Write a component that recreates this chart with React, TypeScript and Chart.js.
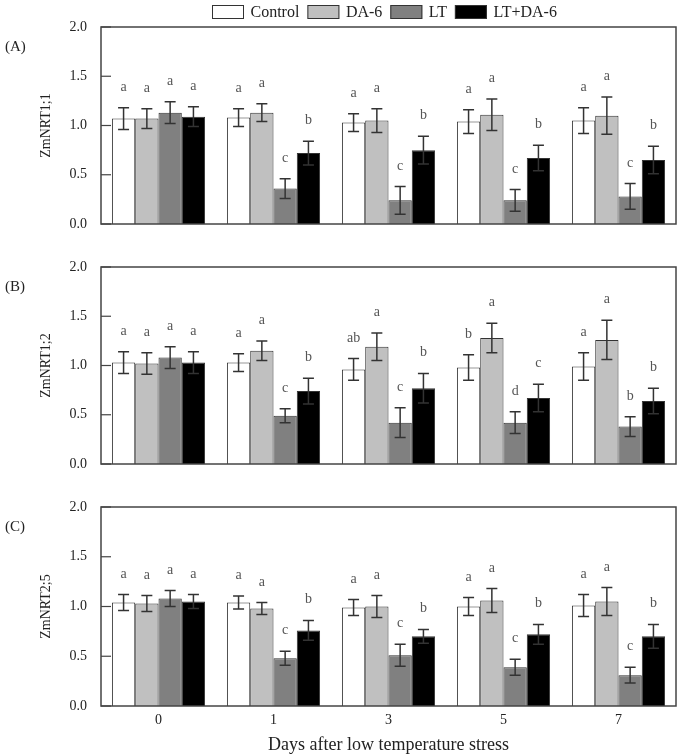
import React, { useEffect, useRef } from "react";
import { Chart, registerables } from "chart.js";

Chart.register(...registerables);

// ---------- data ----------
const days = ["0", "1", "3", "5", "7"];
const seriesNames = ["Control", "DA-6", "LT", "LT+DA-6"];
const seriesColors = ["#ffffff", "#c0c0c0", "#808080", "#000000"];
const yTicks = [0, 0.5, 1.0, 1.5, 2.0];

// Panel A: ZmNRT1;1
const nrt11Control = [1.07, 1.08, 1.03, 1.04, 1.05];
const nrt11DA6 = [1.07, 1.13, 1.05, 1.11, 1.1];
const nrt11LT = [1.13, 0.36, 0.24, 0.24, 0.28];
const nrt11LTDA6 = [1.09, 0.72, 0.75, 0.67, 0.65];
const nrt11ControlErr = [0.11, 0.09, 0.09, 0.12, 0.13];
const nrt11DA6Err = [0.1, 0.09, 0.12, 0.16, 0.19];
const nrt11LTErr = [0.11, 0.1, 0.14, 0.11, 0.13];
const nrt11LTDA6Err = [0.1, 0.12, 0.14, 0.13, 0.14];
const nrt11ControlSig = ["a", "a", "a", "a", "a"];
const nrt11DA6Sig = ["a", "a", "a", "a", "a"];
const nrt11LTSig = ["a", "c", "c", "c", "c"];
const nrt11LTDA6Sig = ["a", "b", "b", "b", "b"];

// Panel B: ZmNRT1;2
const nrt12Control = [1.03, 1.03, 0.96, 0.98, 0.99];
const nrt12DA6 = [1.02, 1.15, 1.19, 1.28, 1.26];
const nrt12LT = [1.08, 0.49, 0.42, 0.42, 0.38];
const nrt12LTDA6 = [1.03, 0.74, 0.77, 0.67, 0.64];
const nrt12ControlErr = [0.11, 0.09, 0.11, 0.13, 0.14];
const nrt12DA6Err = [0.11, 0.1, 0.14, 0.15, 0.2];
const nrt12LTErr = [0.11, 0.07, 0.15, 0.11, 0.1];
const nrt12LTDA6Err = [0.11, 0.13, 0.15, 0.14, 0.13];
const nrt12ControlSig = ["a", "a", "ab", "b", "a"];
const nrt12DA6Sig = ["a", "a", "a", "a", "a"];
const nrt12LTSig = ["a", "c", "c", "d", "b"];
const nrt12LTDA6Sig = ["a", "b", "b", "c", "b"];

// Panel C: ZmNRT2;5
const nrt25Control = [1.04, 1.04, 0.99, 1.0, 1.01];
const nrt25DA6 = [1.03, 0.98, 1.0, 1.06, 1.05];
const nrt25LT = [1.08, 0.48, 0.51, 0.39, 0.31];
const nrt25LTDA6 = [1.05, 0.76, 0.7, 0.72, 0.7];
const nrt25ControlErr = [0.08, 0.065, 0.08, 0.09, 0.11];
const nrt25DA6Err = [0.08, 0.06, 0.11, 0.12, 0.14];
const nrt25LTErr = [0.08, 0.07, 0.11, 0.08, 0.08];
const nrt25LTDA6Err = [0.07, 0.1, 0.07, 0.1, 0.12];
const nrt25ControlSig = ["a", "a", "a", "a", "a"];
const nrt25DA6Sig = ["a", "a", "a", "a", "a"];
const nrt25LTSig = ["a", "c", "c", "c", "c"];
const nrt25LTDA6Sig = ["a", "b", "b", "b", "b"];

const FONT = "'Liberation Serif', 'Times New Roman', serif";
const INK = "#222222";
const LINE = "#444444";

const decorPlugin = {
  id: "decor",
  afterDatasetsDraw(chart: any, _args: any, opts: any) {
    const { ctx, chartArea: ca, scales } = chart;
    const y = scales.y;
    ctx.save();
    // error bars + letters
    chart.data.datasets.forEach((ds: any, di: number) => {
      const meta = chart.getDatasetMeta(di);
      meta.data.forEach((bar: any, i: number) => {
        const v = ds.data[i];
        const e = ds.errors[i];
        const yt = y.getPixelForValue(v + e);
        const yb = y.getPixelForValue(v - e);
        const x = bar.x;
        ctx.strokeStyle = "#333333";
        ctx.lineWidth = 1.5;
        ctx.beginPath();
        ctx.moveTo(x, yt);
        ctx.lineTo(x, yb);
        ctx.moveTo(x - 5.5, yt);
        ctx.lineTo(x + 5.5, yt);
        ctx.moveTo(x - 5.5, yb);
        ctx.lineTo(x + 5.5, yb);
        ctx.stroke();
        ctx.fillStyle = "#555555";
        ctx.font = `14px ${FONT}`;
        ctx.textAlign = "center";
        ctx.textBaseline = "alphabetic";
        ctx.fillText(ds.letters[i], x, yt - 17);
      });
    });
    // frame
    ctx.strokeStyle = LINE;
    ctx.lineWidth = 1.5;
    ctx.strokeRect(ca.left, ca.top, ca.right - ca.left, ca.bottom - ca.top);
    // inward tick marks
    ctx.lineWidth = 1.2;
    y.ticks.forEach((t: any) => {
      const py = y.getPixelForValue(t.value);
      ctx.beginPath();
      ctx.moveTo(ca.left, py);
      ctx.lineTo(ca.left + 10, py);
      ctx.stroke();
    });
    // panel label
    ctx.fillStyle = INK;
    ctx.font = `15px ${FONT}`;
    ctx.textAlign = "left";
    ctx.textBaseline = "middle";
    ctx.fillText(opts.panel, 5, ca.top + 20);
    // legend
    if (opts.legend) {
      let lx = 212;
      const ly = 12;
      ctx.font = `16px ${FONT}`;
      chart.data.datasets.forEach((ds: any) => {
        ctx.fillStyle = ds.backgroundColor;
        ctx.fillRect(lx, ly - 7, 32, 14);
        ctx.strokeStyle = "#333333";
        ctx.lineWidth = 1;
        ctx.strokeRect(lx + 0.5, ly - 6.5, 31, 13);
        ctx.fillStyle = INK;
        ctx.textAlign = "left";
        ctx.textBaseline = "middle";
        ctx.fillText(ds.label, lx + 38.5, ly + 1);
        lx += 38.5 + ctx.measureText(ds.label).width + 8;
      });
    }
    ctx.restore();
  },
};

function makeConfig(
  means: number[][],
  errs: number[][],
  sigs: string[][],
  yTitle: string,
  panel: string,
  padding: any,
  showX: boolean,
  legend: boolean
): any {
  return {
    type: "bar",
    data: {
      labels: days,
      datasets: seriesNames.map((name, k) => ({
        label: name,
        data: means[k],
        errors: errs[k],
        letters: sigs[k],
        backgroundColor: seriesColors[k],
        borderColor: "#333333",
        borderWidth: 1,
        categoryPercentage: 0.81,
        barPercentage: 1.0,
      })),
    },
    options: {
      responsive: false,
      animation: false,
      devicePixelRatio: 1,
      layout: { padding },
      plugins: {
        legend: { display: false },
        tooltip: { enabled: false },
        decor: { panel, legend },
      },
      scales: {
        x: {
          display: showX,
          grid: { display: false, drawTicks: true, tickLength: 6 },
          border: { display: false },
          ticks: { font: { family: FONT, size: 14 }, color: INK, padding: 0 },
          title: {
            display: showX,
            text: "Days after low temperature stress",
            font: { family: FONT, size: 18 },
            color: INK,
            padding: { top: 0, bottom: 0 },
          },
          afterFit: (s: any) => {
            s.height = showX ? 50 : 0;
          },
        },
        y: {
          min: yTicks[0],
          max: yTicks[yTicks.length - 1],
          afterBuildTicks: (s: any) => {
            s.ticks = yTicks.map((v) => ({ value: v }));
          },
          grid: { display: false, drawTicks: true, tickLength: 14 },
          border: { display: false },
          ticks: {
            font: { family: FONT, size: 14 },
            color: INK,
            padding: 0,
            callback: (v: any) => Number(v).toFixed(1),
          },
          title: {
            display: true,
            text: yTitle,
            font: { family: FONT, size: 14 },
            color: INK,
            padding: { top: 38, bottom: 0 },
          },
          afterFit: (s: any) => {
            s.width = 101;
          },
        },
      },
    },
    plugins: [decorPlugin],
  };
}

export default function App() {
  const refA = useRef<HTMLCanvasElement>(null);
  const refB = useRef<HTMLCanvasElement>(null);
  const refC = useRef<HTMLCanvasElement>(null);

  useEffect(() => {
    const charts: Chart[] = [];
    charts.push(
      new Chart(
        refA.current as HTMLCanvasElement,
        makeConfig(
          [nrt11Control, nrt11DA6, nrt11LT, nrt11LTDA6],
          [nrt11ControlErr, nrt11DA6Err, nrt11LTErr, nrt11LTDA6Err],
          [nrt11ControlSig, nrt11DA6Sig, nrt11LTSig, nrt11LTDA6Sig],
          "ZmNRT1;1",
          "(A)",
          { top: 27, right: 8, bottom: 21, left: 0 },
          false,
          true
        )
      )
    );
    charts.push(
      new Chart(
        refB.current as HTMLCanvasElement,
        makeConfig(
          [nrt12Control, nrt12DA6, nrt12LT, nrt12LTDA6],
          [nrt12ControlErr, nrt12DA6Err, nrt12LTErr, nrt12LTDA6Err],
          [nrt12ControlSig, nrt12DA6Sig, nrt12LTSig, nrt12LTDA6Sig],
          "ZmNRT1;2",
          "(B)",
          { top: 22, right: 8, bottom: 21, left: 0 },
          false,
          false
        )
      )
    );
    charts.push(
      new Chart(
        refC.current as HTMLCanvasElement,
        makeConfig(
          [nrt25Control, nrt25DA6, nrt25LT, nrt25LTDA6],
          [nrt25ControlErr, nrt25DA6Err, nrt25LTErr, nrt25LTDA6Err],
          [nrt25ControlSig, nrt25DA6Sig, nrt25LTSig, nrt25LTDA6Sig],
          "ZmNRT2;5",
          "(C)",
          { top: 22, right: 8, bottom: 0, left: 0 },
          true,
          false
        )
      )
    );
    return () => charts.forEach((c) => c.destroy());
  }, []);

  const cs = (top: number): React.CSSProperties => ({
    position: "absolute",
    left: 0,
    top,
    display: "block",
  });

  return (
    <div
      style={{
        position: "absolute",
        left: 0,
        top: 0,
        width: 684,
        height: 756,
        background: "#ffffff",
      }}
    >
      <canvas ref={refA} width={684} height={245} style={cs(0)} />
      <canvas ref={refB} width={684} height={240} style={cs(245)} />
      <canvas ref={refC} width={684} height={271} style={cs(485)} />
    </div>
  );
}
